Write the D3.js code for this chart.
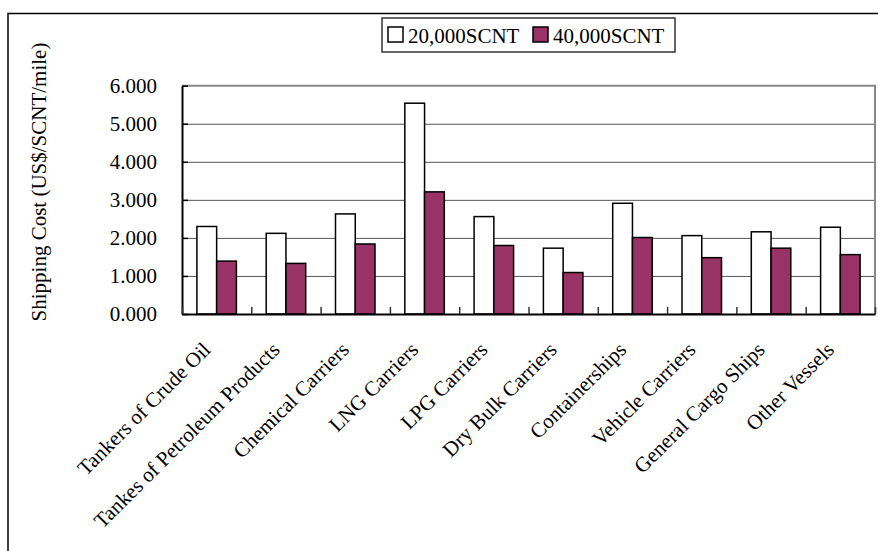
<!DOCTYPE html>
<html>
<head>
<meta charset="utf-8">
<script src="https://cdn.jsdelivr.net/npm/d3@7"></script>
<style>
  body { margin: 0; background: #fff; }
  svg text { font-family: "Liberation Serif", "Times New Roman", serif !important; fill: #000; }
</style>
</head>
<body>
<div id="chart"></div>
<script>
// Data
const categories = ["Tankers of Crude Oil", "Tankes of Petroleum Products", "Chemical Carriers",
    "LNG Carriers", "LPG Carriers", "Dry Bulk Carriers", "Containerships",
    "Vehicle Carriers", "General Cargo Ships", "Other Vessels"];
const seriesNames = ["20,000SCNT", "40,000SCNT"];
const values20k = [2.30, 2.12, 2.63, 5.54, 2.56, 1.73, 2.91, 2.06, 2.16, 2.28];
const values40k = [1.39, 1.33, 1.84, 3.21, 1.80, 1.09, 2.01, 1.48, 1.73, 1.56];
const yTicks = [0, 1, 2, 3, 4, 5, 6];
const colors = { "20,000SCNT": "#ffffff", "40,000SCNT": "#993366" };

const FONT = "'Liberation Serif', 'Times New Roman', serif";
const width = 878, height = 551;
const plot = {left: 182, right: 875, top: 85.7, bottom: 314};

const svg = d3.select("#chart")
    .append("svg")
    .attr("width", width)
    .attr("height", height)
    .attr("font-family", FONT);

// outer chart frame (runs past the right and bottom edges)
svg.append("rect")
    .attr("x", 8).attr("y", 13.5)
    .attr("width", 900).attr("height", 600)
    .attr("fill", "none")
    .attr("stroke", "#000")
    .attr("stroke-width", 1.5);

// Scales
const x = d3.scaleBand()
    .domain(categories)
    .range([plot.left, plot.right])
    .paddingInner(0.43)
    .paddingOuter(0.215);

const xs = d3.scaleBand()
    .domain(seriesNames)
    .range([0, x.bandwidth()]);

const y = d3.scaleLinear()
    .domain([0, 6])
    .range([plot.bottom, plot.top]);

// category boundaries for tick marks
const xb = d3.scaleLinear().domain([0, categories.length]).range([plot.left, plot.right]);

// Gridlines
svg.append("g")
    .attr("transform", `translate(${plot.left},0)`)
    .call(d3.axisLeft(y).tickValues(yTicks.slice(1, -1)).tickSize(-(plot.right - plot.left)).tickFormat(""))
    .call(g => g.select(".domain").remove())
    .call(g => g.selectAll("line").attr("stroke", "#555").attr("stroke-width", 1));

// plot area border (top and right in gray)
svg.append("path")
    .attr("d", `M${plot.left},${plot.top}H${plot.right}V${plot.bottom}`)
    .attr("fill", "none")
    .attr("stroke", "#888")
    .attr("stroke-width", 2);

// Bars
const rows = categories.map((c, i) => ({cat: c, vals: [values20k[i], values40k[i]]}));

const groups = svg.selectAll(".group")
    .data(rows)
    .join("g")
    .attr("class", "group")
    .attr("transform", d => `translate(${x(d.cat)},0)`);

groups.selectAll("rect")
    .data(d => seriesNames.map((s, j) => ({series: s, value: d.vals[j]})))
    .join("rect")
    .attr("x", d => xs(d.series))
    .attr("y", d => y(d.value))
    .attr("width", xs.bandwidth())
    .attr("height", d => y(0) - y(d.value))
    .attr("fill", d => colors[d.series])
    .attr("stroke", "#000")
    .attr("stroke-width", 1.5);

// Y axis
svg.append("g")
    .attr("transform", `translate(${plot.left},0)`)
    .call(d3.axisLeft(y).tickValues(yTicks).tickSizeInner(-6).tickSizeOuter(0)
        .tickPadding(25).tickFormat(d3.format(".3f")))
    .attr("font-family", FONT)
    .attr("font-size", 21)
    .call(g => g.select(".domain").attr("stroke", "#000").attr("stroke-width", 2))
    .call(g => g.selectAll("line").attr("stroke", "#000").attr("stroke-width", 1.5));

// X axis: tick marks between categories
svg.append("g")
    .attr("transform", `translate(0,${plot.bottom})`)
    .call(d3.axisBottom(xb).tickValues(d3.range(categories.length + 1))
        .tickSizeInner(-7).tickSizeOuter(0).tickFormat(""))
    .call(g => g.select(".domain").attr("stroke", "#000").attr("stroke-width", 2))
    .call(g => g.selectAll("line").attr("stroke", "#333").attr("stroke-width", 1.5));

// X category labels, rotated
svg.append("g")
    .selectAll("text")
    .data(categories)
    .join("text")
    .attr("transform", d => `translate(${x(d) + x.bandwidth() / 2 - 5},${plot.bottom + 37}) rotate(-45)`)
    .attr("text-anchor", "end")
    .attr("font-size", 21)
    .text(d => d);

// Y axis label
svg.append("text")
    .attr("transform", "translate(46,182) rotate(-90)")
    .attr("text-anchor", "middle")
    .attr("font-size", 21)
    .text("Shipping Cost (US$/SCNT/mile)");

// Legend
const legend = svg.append("g");
legend.append("rect")
    .attr("x", 382).attr("y", 18)
    .attr("width", 293).attr("height", 34)
    .attr("fill", "#fff")
    .attr("stroke", "#333")
    .attr("stroke-width", 1.5);

const legendX = [388, 533];
seriesNames.forEach((s, i) => {
    legend.append("rect")
        .attr("x", legendX[i]).attr("y", 27)
        .attr("width", 15).attr("height", 15)
        .attr("fill", colors[s])
        .attr("stroke", "#000")
        .attr("stroke-width", 1.5);
    legend.append("text")
        .attr("x", legendX[i] + 20)
        .attr("y", 43)
        .attr("font-size", 21)
        .text(s);
});
</script>
</body>
</html>
